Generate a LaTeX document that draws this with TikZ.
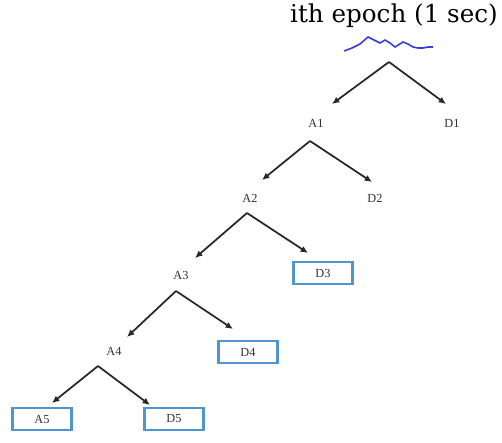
\documentclass[tikz,border=0pt]{standalone}
\usepackage{fontspec}
\setmainfont{Liberation Serif}
\newfontfamily\titlefont{DejaVu Serif}
\usetikzlibrary{arrows.meta}

\definecolor{linecol}{RGB}{40, 40, 40}
\definecolor{boxcol}{RGB}{80, 150, 205}
\definecolor{sigcol}{RGB}{60, 60, 220}
\definecolor{txtcol}{RGB}{50, 50, 50}

\tikzset{
  lbl/.style={inner sep=1pt, text=txtcol, font=\fontsize{7}{8}\selectfont},
  detbox/.style={lbl, draw=boxcol, line width=1.2pt, minimum width=1.18cm, minimum height=0.44cm},
  arr/.style={linecol, line width=1pt, -{Latex[length=4.2pt, width=3.8pt]}}
}

\begin{document}
\begin{tikzpicture}[x=0.02cm, y=-0.02cm]
        \useasboundingbox (0,0) rectangle (502,442);

        % Title and signal
        \node[font=\titlefont\fontsize{14}{16}\selectfont] (title) at (394,16) {ith epoch (1 sec)};
        \draw[sigcol, line width=0.9pt] (344,51) -- (352,48) -- (360,44) -- (368,37) -- (374,40)
          -- (380,43) -- (385,40) -- (390,43) -- (395,47) -- (403,42) -- (408,44) -- (413,47)
          -- (418,48) -- (423,48) -- (428,47) -- (433,47);

        % Branch points
        \coordinate (ap1) at (389,62);
        \coordinate (ap2) at (310,141);
        \coordinate (ap3) at (247,213);
        \coordinate (ap4) at (176,291);
        \coordinate (ap5) at (98,366);

        % Levels
        \node[lbl] (A1) at (316,123) {A1};
        \node[lbl] (D1) at (452,123) {D1};
        \node[lbl] (A2) at (250,198) {A2};
        \node[lbl] (D2) at (375,198) {D2};
        \node[lbl] (A3) at (181,275) {A3};
        \node[detbox] (D3) at (323,273) {D3};
        \node[lbl] (A4) at (114,351) {A4};
        \node[detbox] (D4) at (248,352) {D4};
        \node[detbox] (A5) at (42,419) {A5};
        \node[detbox] (D5) at (174,419) {D5};

        % Arrow tips
        \coordinate (tA1) at ([shift={(16,-19)}]A1.center);
        \coordinate (tD1) at ([shift={(-6,-19)}]D1.center);
        \coordinate (tA2) at ([shift={(12,-18)}]A2.center);
        \coordinate (tD2) at ([shift={(-3,-16)}]D2.center);
        \coordinate (tA3) at ([shift={(14,-17)}]A3.center);
        \coordinate (tD3) at ([shift={(-15,-20)}]D3.center);
        \coordinate (tA4) at ([shift={(13,-14)}]A4.center);
        \coordinate (tD4) at ([shift={(-15,-23)}]D4.center);
        \coordinate (tA5) at ([shift={(10,-16)}]A5.center);
        \coordinate (tD5) at ([shift={(-24,-14)}]D5.center);

        % Decomposition
        \draw[arr] (ap1) -- (tA1);
        \draw[arr] (ap1) -- (tD1);
        \draw[arr] (ap2) -- (tA2);
        \draw[arr] (ap2) -- (tD2);
        \draw[arr] (ap3) -- (tA3);
        \draw[arr] (ap3) -- (tD3);
        \draw[arr] (ap4) -- (tA4);
        \draw[arr] (ap4) -- (tD4);
        \draw[arr] (ap5) -- (tA5);
        \draw[arr] (ap5) -- (tD5);
      \end{tikzpicture}
\end{document}
